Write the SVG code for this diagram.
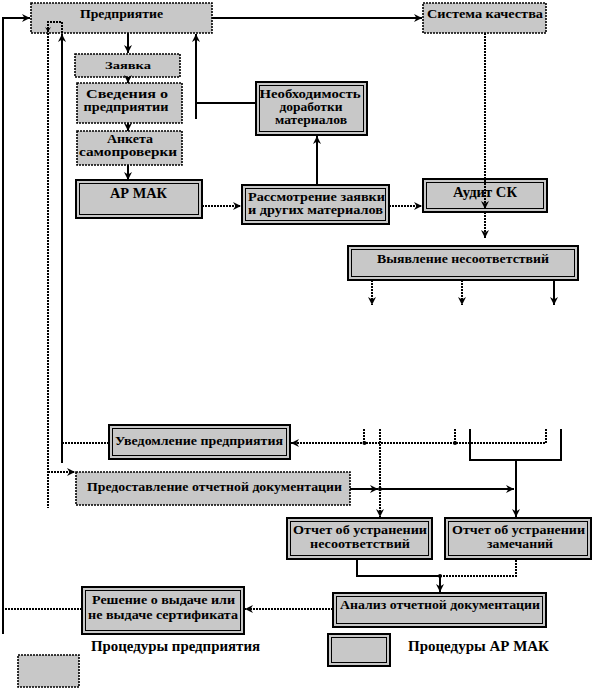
<svg xmlns="http://www.w3.org/2000/svg" width="595" height="688" viewBox="0 0 595 688">
<style>
.s{fill:#c8c8c8;stroke:#000;stroke-width:1.6;stroke-dasharray:2 1}
.b{fill:#c8c8c8;stroke:#000;stroke-width:2}
.i{fill:none;stroke:#000;stroke-width:1}
.t{font-family:"Liberation Serif","Times New Roman",serif;font-weight:bold;font-size:13px;text-anchor:middle;fill:#000}
.m{font-size:12px}
.c{fill:none;stroke:#000;stroke-width:2}
.d{fill:none;stroke:#000;stroke-width:2;stroke-dasharray:2 1}
</style>
<defs>
<marker id="ah" markerUnits="userSpaceOnUse" markerWidth="8" markerHeight="8" viewBox="0 0 8 8" refX="8" refY="4" orient="auto"><path d="M0,0 L8,4 L0,8 L2.5,4 z" fill="#000"/></marker>
</defs>

<g id="predpr"><rect class="s" x="31" y="3" width="181" height="30"/><text class="t" x="121.5" y="18" textLength="83" lengthAdjust="spacingAndGlyphs">Предприятие</text></g>
<g id="sk"><rect class="s" x="423" y="3" width="123" height="30"/><text class="t" x="485" y="18" textLength="116" lengthAdjust="spacingAndGlyphs">Система качества</text></g>
<g id="zayavka"><rect class="s" x="75" y="54" width="105" height="23"/><text class="t" x="128" y="69" style="font-size:11px" textLength="46" lengthAdjust="spacingAndGlyphs">Заявка</text></g>
<g id="svedeniya"><rect class="s" x="77" y="83" width="105" height="40"/><text class="t m" x="127" y="98" textLength="82" lengthAdjust="spacingAndGlyphs">Сведения о</text><text class="t m" x="126" y="111" textLength="85" lengthAdjust="spacingAndGlyphs">предприятии</text></g>
<g id="anketa"><rect class="s" x="77" y="131" width="105" height="34"/><text class="t m" x="130" y="143" textLength="46" lengthAdjust="spacingAndGlyphs">Анкета</text><text class="t m" x="128" y="156" textLength="98" lengthAdjust="spacingAndGlyphs">самопроверки</text></g>
<g id="armak"><rect class="b" x="76" y="180" width="126" height="38"/><rect class="i" x="79.5" y="183.5" width="119" height="31"/><text class="t" x="138.5" y="198" style="font-size:14px" textLength="57" lengthAdjust="spacingAndGlyphs">АР МАК</text></g>
<g id="neobh"><rect class="b" x="256" y="82" width="111" height="53"/><rect class="i" x="259.5" y="85.5" width="104" height="46"/><text class="t m" x="310" y="98" textLength="101" lengthAdjust="spacingAndGlyphs">Необходимость</text><text class="t m" x="311" y="111" textLength="63" lengthAdjust="spacingAndGlyphs">доработки</text><text class="t m" x="311" y="124" textLength="72" lengthAdjust="spacingAndGlyphs">материалов</text></g>
<g id="rassm"><rect class="b" x="242" y="185" width="147" height="39"/><rect class="i" x="245.5" y="188.5" width="140" height="32"/><text class="t m" x="316.5" y="201" textLength="137" lengthAdjust="spacingAndGlyphs">Рассмотрение заявки</text><text class="t m" x="315.5" y="214" textLength="135" lengthAdjust="spacingAndGlyphs">и других материалов</text></g>
<g id="audit"><rect class="b" x="423" y="179" width="124" height="33"/><rect class="i" x="426.5" y="182.5" width="117" height="26"/><text class="t" x="485" y="197" style="font-size:14px" textLength="64" lengthAdjust="spacingAndGlyphs">Аудит СК</text></g>
<g id="vyyav"><rect class="b" x="348" y="246" width="230" height="34"/><rect class="i" x="351.5" y="249.5" width="223" height="27"/><text class="t" x="463" y="263" textLength="172" lengthAdjust="spacingAndGlyphs">Выявление несоответствий</text></g>
<g id="uved"><rect class="b" x="109" y="425" width="181" height="34"/><rect class="i" x="112.5" y="428.5" width="174" height="27"/><text class="t" x="199" y="445" textLength="168" lengthAdjust="spacingAndGlyphs">Уведомление предприятия</text></g>
<g id="predost"><rect class="s" x="76" y="472" width="274" height="33"/><text class="t" x="214.5" y="491" textLength="255" lengthAdjust="spacingAndGlyphs">Предоставление отчетной документации</text></g>
<g id="otchet1"><rect class="b" x="287" y="518" width="145" height="41"/><rect class="i" x="290.5" y="521.5" width="138" height="34"/><text class="t" x="360" y="534" textLength="134" lengthAdjust="spacingAndGlyphs">Отчет об устранении</text><text class="t" x="360" y="548" textLength="100" lengthAdjust="spacingAndGlyphs">несоответствий</text></g>
<g id="otchet2"><rect class="b" x="445" y="518" width="146" height="41"/><rect class="i" x="448.5" y="521.5" width="139" height="34"/><text class="t" x="518.5" y="534" textLength="133" lengthAdjust="spacingAndGlyphs">Отчет об устранении</text><text class="t" x="520" y="548" textLength="66" lengthAdjust="spacingAndGlyphs">замечаний</text></g>
<g id="analiz"><rect class="b" x="333" y="593" width="213" height="34"/><rect class="i" x="336.5" y="596.5" width="206" height="27"/><text class="t" x="440" y="609" textLength="200" lengthAdjust="spacingAndGlyphs">Анализ отчетной документации</text></g>
<g id="reshenie"><rect class="b" x="82" y="587" width="162" height="47"/><rect class="i" x="85.5" y="590.5" width="155" height="40"/><text class="t" x="163.5" y="604" textLength="143" lengthAdjust="spacingAndGlyphs">Решение о выдаче или</text><text class="t" x="163" y="619" textLength="150" lengthAdjust="spacingAndGlyphs">не выдаче сертификата</text></g>
<g id="legend1"><rect class="s" x="18" y="655" width="61" height="32"/><text class="t" x="175.5" y="651" style="font-size:15px" textLength="169" lengthAdjust="spacingAndGlyphs">Процедуры предприятия</text></g>
<g id="legend2"><rect class="b" x="328" y="634" width="62" height="32"/><rect class="i" x="331.5" y="637.5" width="55" height="25"/><text class="t" x="478.5" y="651" style="font-size:15px" textLength="141" lengthAdjust="spacingAndGlyphs">Процедуры АР МАК</text></g>

<g id="connectors">
<path class="c" d="M3,634 V18 H30" marker-end="url(#ah)"/>
<path class="d" d="M82,609 H3"/>
<path class="c" d="M212,18 H422" marker-end="url(#ah)"/>
<path class="d" d="M485,33 V209" marker-end="url(#ah)"/>
<path class="d" d="M485,212 V238" marker-end="url(#ah)"/>
<path class="c" d="M128,33 V53" marker-end="url(#ah)"/>
<path class="c" d="M128,77 V83" marker-end="url(#ah)"/>
<path class="c" d="M128,123 V131" marker-end="url(#ah)"/>
<path class="c" d="M128,165 V180" marker-end="url(#ah)"/>
<path class="d" d="M202,206 H241" marker-end="url(#ah)"/>
<path class="d" d="M389,206 H422" marker-end="url(#ah)"/>
<path class="c" d="M317,185 V136" marker-end="url(#ah)"/>
<path class="c" d="M256,103 H196"/>
<path class="c" d="M196,119 V34" marker-end="url(#ah)"/>
<path class="d" d="M372,280 V305" marker-end="url(#ah)"/>
<path class="d" d="M462,280 V305" marker-end="url(#ah)"/>
<path class="c" d="M554,280 V305" marker-end="url(#ah)"/>
<path class="d" d="M364,429 V443"/>
<path class="d" d="M455,429 V443"/>
<path class="d" d="M546,429 V443 H291" marker-end="url(#ah)"/>
<path class="d" d="M380,429 V517" marker-end="url(#ah)"/>
<path class="c" d="M470,429 V460 H561 V429"/>
<path class="c" d="M516,460 V517" marker-end="url(#ah)"/>
<circle cx="364.5" cy="443" r="2" fill="#000"/>
<circle cx="455" cy="443" r="2" fill="#000"/>
<path class="c" d="M350,489 H378" marker-end="url(#ah)"/>
<path class="c" d="M380,489 H514" marker-end="url(#ah)"/>
<circle cx="380" cy="489" r="2" fill="#000"/>
<path class="d" d="M109,443 H62"/>
<path class="c" d="M62,463 V34" marker-end="url(#ah)"/>
<path class="d" d="M62,33 V22 H48 V508"/>
<path d="M45,27 L48,32 L51,27 L48,29 z" fill="#000"/>
<path class="d" d="M48,472 H75" marker-end="url(#ah)"/>
<path class="c" d="M357,559 V576 H440"/>
<path class="d" d="M440,576 H516 V559"/>
<circle cx="440" cy="576" r="2" fill="#000"/>
<path class="c" d="M440,576 V592" marker-end="url(#ah)"/>
<path class="d" d="M333,609 H245" marker-end="url(#ah)"/>
</g>
</svg>
